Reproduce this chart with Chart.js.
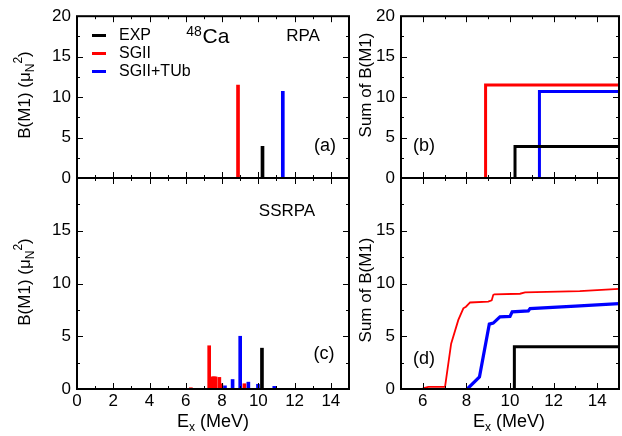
<!DOCTYPE html>
<html>
<head>
<meta charset="utf-8">
<script src="https://cdn.jsdelivr.net/npm/chart.js@4.4.1/dist/chart.umd.min.js"></script>
<style>
body { margin: 0; background: #fff; }
#wrap { position: relative; width: 622px; height: 436px; }
#wrap canvas { position: absolute; left: 0; top: 0; }
</style>
</head>
<body>
<div id="wrap">
  <canvas id="pa" width="622" height="436"></canvas>
  <canvas id="pb" width="622" height="436"></canvas>
  <canvas id="pc" width="622" height="436"></canvas>
  <canvas id="pd" width="622" height="436"></canvas>
</div>
<script>
"use strict";

const FONT = '"Liberation Sans", Arial, sans-serif';

// serier: EXP, SGII, SGII+TUb
const seriesNames = ["EXP", "SGII", "SGII+TUb"];
const seriesColors = ["#000000", "#ff0000", "#0000ff"];

// tick-etiketter
const xTicksLeft = [0, 2, 4, 6, 8, 10, 12, 14];
const xTicksRight = [6, 8, 10, 12, 14];
const yTicksTop = [0, 5, 10, 15, 20];
const yTicksBottom = [0, 5, 10, 15];

// (a) RPA: energi (MeV) och B(M1)
const rpaExpE = [10.23];
const rpaExpB = [3.9];
const rpaSgE = [8.88];
const rpaSgB = [11.5];
const rpaTuE = [11.35];
const rpaTuB = [10.7];

// (c) SSRPA
const ssExpE = [10.2];
const ssExpB = [3.87];
const ssSgE = [6.28, 7.29, 7.46, 7.55, 7.64, 7.85, 7.96, 9.23];
const ssSgB = [0.12, 4.1, 1.15, 1.15, 1.15, 1.1, 0.5, 0.5];
const ssTuE = [8.16, 8.58, 9.0, 9.45, 9.98, 10.88];
const ssTuB = [0.3, 0.9, 5.0, 0.65, 0.45, 0.25];

// (b) summa RPA
const sumRpaExpE = [10.23, 10.23, 15];
const sumRpaExpS = [0, 3.9, 3.9];
const sumRpaSgE = [8.88, 8.88, 15];
const sumRpaSgS = [0, 11.5, 11.5];
const sumRpaTuE = [11.35, 11.35, 15];
const sumRpaTuS = [0, 10.7, 10.7];

// (d) summa SSRPA
const sumSsExpE = [10.2, 10.2, 15];
const sumSsExpS = [0, 4.0, 4.0];
const sumSsSgE = [6.0, 6.25, 7.02, 7.3, 7.63, 7.86, 7.98, 8.17, 9.0, 9.16, 9.23, 9.28, 10.46, 10.69, 13.2, 15];
const sumSsSgS = [0.05, 0.2, 0.2, 4.3, 6.55, 7.65, 7.8, 8.2, 8.28, 8.4, 8.9, 8.97, 9.03, 9.15, 9.28, 9.5];
const sumSsTuE = [8.04, 8.6, 9.05, 9.23, 9.54, 10.0, 10.1, 10.84, 10.92, 13.0, 15];
const sumSsTuS = [0, 1.15, 6.15, 6.25, 6.84, 6.88, 7.31, 7.4, 7.62, 7.85, 8.1];

const toXY = (xs, ys) => xs.map((x, i) => ({ x: x, y: ys[i] }));

function barSet(i, xs, ys) {
    return {
        type: 'bar', label: seriesNames[i], data: toXY(xs, ys),
        backgroundColor: seriesColors[i], borderWidth: 0,
        barThickness: 3, grouped: false
    };
}

function lineSet(i, xs, ys, width) {
    return {
        type: 'line', label: seriesNames[i], data: toXY(xs, ys),
        borderColor: seriesColors[i], borderWidth: width,
        pointRadius: 0, tension: 0, fill: false
    };
}

// text med upphöjt/nedsänkt
function drawRich(ctx, parts, x, y, size, rot) {
    const small = Math.round(size * 0.68);
    const widths = parts.map(p => {
        ctx.font = ((p.sub || p.sup) ? small : size) + 'px ' + FONT;
        return ctx.measureText(p.t).width;
    });
    const total = widths.reduce((a, b) => a + b, 0);
    ctx.save();
    ctx.translate(x, y);
    if (rot) ctx.rotate(rot);
    ctx.fillStyle = '#000';
    ctx.textBaseline = 'middle';
    ctx.textAlign = 'left';
    let cx = -total / 2;
    parts.forEach((p, i) => {
        ctx.font = ((p.sub || p.sup) ? small : size) + 'px ' + FONT;
        const dy = p.sub ? size * 0.32 : (p.sup ? -size * 0.4 : 0);
        ctx.fillText(p.t, cx, dy);
        cx += widths[i];
    });
    ctx.restore();
}

// ram med inåtriktade ticks på alla sidor
const framePlugin = {
    id: 'frame',
    afterDatasetsDraw(chart, args, opts) {
        const { ctx, chartArea: a, scales } = chart;
        const xs = scales.x, ys = scales.y;
        ctx.save();
        ctx.strokeStyle = '#000';
        ctx.lineWidth = 1;
        for (let v = xs.min; v <= xs.max; v += 1) {
            const px = Math.round(xs.getPixelForValue(v)) + 0.5;
            const len = v % 2 === 0 ? 6 : 3;
            ctx.beginPath();
            ctx.moveTo(px, a.bottom); ctx.lineTo(px, a.bottom - len);
            ctx.moveTo(px, a.top); ctx.lineTo(px, a.top + len);
            ctx.stroke();
        }
        for (let v = ys.min; v <= ys.max; v += 2.5) {
            const py = Math.round(ys.getPixelForValue(v)) + 0.5;
            const len = v % 5 === 0 ? 6 : 3;
            ctx.beginPath();
            ctx.moveTo(a.left, py); ctx.lineTo(a.left + len, py);
            ctx.moveTo(a.right, py); ctx.lineTo(a.right - len, py);
            ctx.stroke();
        }
        ctx.lineWidth = 2;
        ctx.strokeRect(a.left, a.top, a.right - a.left, a.bottom - a.top);
        ctx.restore();
    }
};

const notesPlugin = {
    id: 'notes',
    afterDraw(chart, args, opts) {
        const ctx = chart.ctx;
        (opts.items || []).forEach(n => drawRich(ctx, n.parts, n.x, n.y, n.size, n.rot || 0));
        if (opts.legend) {
            ctx.save();
            seriesNames.forEach((name, i) => {
                const y = 35.5 + i * 18;
                ctx.strokeStyle = seriesColors[i];
                ctx.lineWidth = 3;
                ctx.beginPath();
                ctx.moveTo(92, y); ctx.lineTo(106, y);
                ctx.stroke();
                ctx.fillStyle = '#000';
                ctx.font = '16px ' + FONT;
                ctx.textBaseline = 'middle';
                ctx.fillText(name, 119, y);
            });
            ctx.restore();
        }
    }
};

const bmTitle = [{ t: 'B(M1) (μ' }, { t: 'N', sub: true }, { t: '2', sup: true }, { t: ')' }];
const sumTitle = [{ t: 'Sum of B(M1)' }];
const exTitle = [{ t: 'E' }, { t: 'x', sub: true }, { t: ' (MeV)' }];

function panel(id, cfg) {
    const tickFont = { family: FONT, size: 17 };
    new Chart(document.getElementById(id), {
        type: 'bar',
        data: { datasets: cfg.datasets },
        options: {
            responsive: false,
            animation: false,
            devicePixelRatio: 1,
            layout: { padding: cfg.padding },
            plugins: {
                legend: { display: false },
                tooltip: { enabled: false },
                notes: { items: cfg.notes, legend: cfg.legend }
            },
            scales: {
                x: {
                    type: 'linear', min: cfg.xMin, max: 15, offset: false,
                    display: cfg.showX,
                    grid: { display: false, drawTicks: false },
                    border: { display: false },
                    ticks: { font: tickFont, color: '#000', padding: 2, maxRotation: 0, autoSkip: false },
                    afterBuildTicks: s => { s.ticks = cfg.xTicks.map(v => ({ value: v })); },
                    afterFit: s => { s.height = cfg.showX ? 47 : 0; }
                },
                y: {
                    type: 'linear', min: 0, max: 20,
                    grid: { display: false, drawTicks: false },
                    border: { display: false },
                    ticks: { font: tickFont, color: '#000', padding: 6, autoSkip: false },
                    afterBuildTicks: s => { s.ticks = cfg.yTicks.map(v => ({ value: v })); },
                    afterFit: s => { s.width = cfg.left; }
                }
            }
        },
        plugins: [framePlugin, notesPlugin]
    });
}

// (a)
panel('pa', {
    datasets: [barSet(0, rpaExpE, rpaExpB), barSet(1, rpaSgE, rpaSgB), barSet(2, rpaTuE, rpaTuB)],
    padding: { left: 0, right: 273, top: 11, bottom: 258 },
    left: 77, xMin: 0, showX: false, xTicks: xTicksLeft, yTicks: yTicksTop, legend: true,
    notes: [
        { parts: bmTitle, x: 25, y: 95, size: 17, rot: -Math.PI / 2 },
        { parts: [{ t: '48', sup: true }], x: 194, y: 40, size: 20 },
        { parts: [{ t: 'Ca' }], x: 216, y: 37, size: 21 },
        { parts: [{ t: 'RPA' }], x: 303, y: 36, size: 17 },
        { parts: [{ t: '(a)' }], x: 325, y: 146, size: 18 }
    ]
});

// (b)
panel('pb', {
    datasets: [lineSet(0, sumRpaExpE, sumRpaExpS, 3), lineSet(1, sumRpaSgE, sumRpaSgS, 3), lineSet(2, sumRpaTuE, sumRpaTuS, 3)],
    padding: { left: 0, right: 3, top: 11, bottom: 258 },
    left: 401, xMin: 5, showX: false, xTicks: xTicksRight, yTicks: yTicksTop, legend: false,
    notes: [
        { parts: sumTitle, x: 366, y: 85, size: 17, rot: -Math.PI / 2 },
        { parts: [{ t: '(b)' }], x: 424, y: 146, size: 18 }
    ]
});

// (c)
panel('pc', {
    datasets: [barSet(0, ssExpE, ssExpB), barSet(1, ssSgE, ssSgB), barSet(2, ssTuE, ssTuB)],
    padding: { left: 0, right: 273, top: 178, bottom: 0 },
    left: 77, xMin: 0, showX: true, xTicks: xTicksLeft, yTicks: yTicksBottom, legend: false,
    notes: [
        { parts: bmTitle, x: 25, y: 282, size: 17, rot: -Math.PI / 2 },
        { parts: [{ t: 'SSRPA' }], x: 287, y: 211, size: 17 },
        { parts: [{ t: '(c)' }], x: 324, y: 354, size: 18 },
        { parts: exTitle, x: 213, y: 422, size: 18 }
    ]
});

// (d)
panel('pd', {
    datasets: [lineSet(0, sumSsExpE, sumSsExpS, 3), lineSet(1, sumSsSgE, sumSsSgS, 1.8), lineSet(2, sumSsTuE, sumSsTuS, 3.2)],
    padding: { left: 0, right: 3, top: 178, bottom: 0 },
    left: 401, xMin: 5, showX: true, xTicks: xTicksRight, yTicks: yTicksBottom, legend: false,
    notes: [
        { parts: sumTitle, x: 366, y: 290, size: 17, rot: -Math.PI / 2 },
        { parts: [{ t: '(d)' }], x: 424, y: 359, size: 18 },
        { parts: exTitle, x: 509, y: 422, size: 18 }
    ]
});
</script>
</body>
</html>
